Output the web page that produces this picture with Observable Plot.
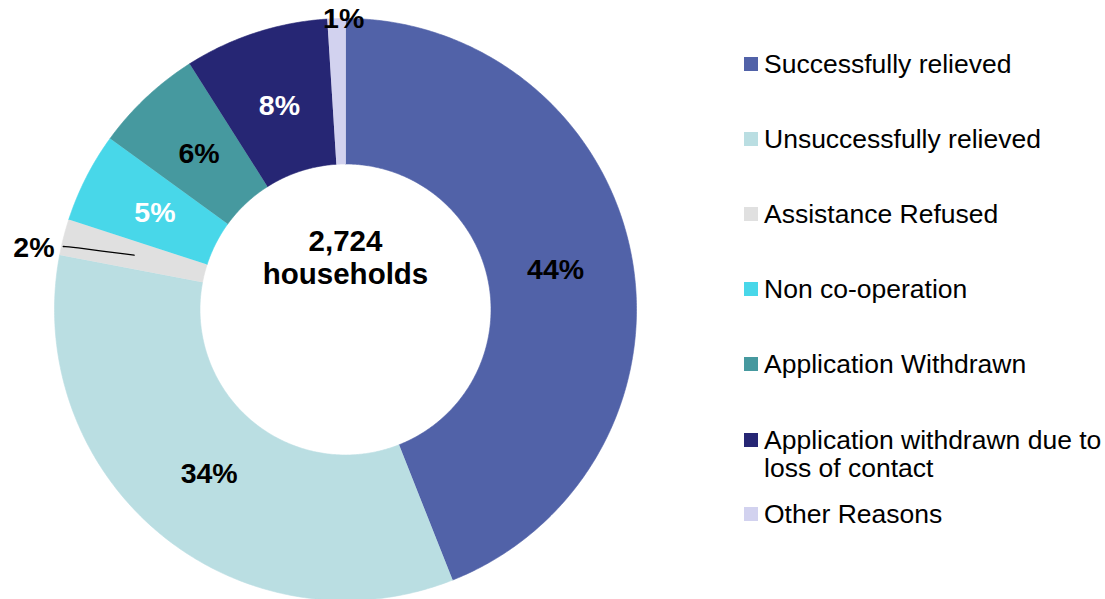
<!DOCTYPE html>
<html><head><meta charset="utf-8">
<script src="https://cdn.jsdelivr.net/npm/d3@7"></script>
<script src="https://cdn.jsdelivr.net/npm/@observablehq/plot@0.6"></script>
<style>
body{margin:0;background:#fff;font-family:"Liberation Sans",Arial,sans-serif;}
#wrap{position:relative;width:1105px;height:599px;overflow:hidden;}
.item{position:absolute;left:744px;font-size:26.5px;line-height:28px;color:#000;}
.sw{position:absolute;left:0;top:7px;width:14px;height:14px;}
.lab{position:absolute;left:20px;top:0;white-space:pre;}
</style></head><body><div id="wrap"></div>
<script>
const categories = ["Successfully relieved","Unsuccessfully relieved","Assistance Refused","Non co-operation","Application Withdrawn","Application withdrawn due to loss of contact","Other Reasons"];
const legendLabels = ["Successfully relieved","Unsuccessfully relieved","Assistance Refused","Non co-operation","Application Withdrawn","Application withdrawn due to\nloss of contact","Other Reasons"];
const values = [44, 34, 2, 5, 6, 8, 1];
const valueLabels = ["44%","34%","2%","5%","6%","8%","1%"];
const colors = ["#5162a8","#badee2","#e0e0e0","#48d7e9","#46999f","#262674","#d2d2ef"];
const labelColors = ["black","black","black","white","black","white","black"];
const labelPlacement = ["in","in","leader","in","in","in","edge"];
const centerText = "2,724\nhouseholds";

// layout (pixels)
const W = 1105, H = 599, CX = 345, CY = 309, R = 291, INNER = 0.5;
const legendTops = [50, 125, 200, 275, 350, 426, 500];

const pie = d3.pie().sort(null).value(d => d)(values);
const polar = (a, r) => [r * Math.sin(a), r * Math.cos(a)];

// slice polygons
const pts = [];
pie.forEach((p, i) => {
  const a0 = p.startAngle, a1 = p.endAngle;
  const n = Math.max(3, Math.ceil((a1 - a0) / 0.01));
  for (let k = 0; k <= n; k++) {
    const a = a0 + (a1 - a0) * k / n;
    const [x, y] = polar(a, 1);
    pts.push({name: categories[i], x, y});
  }
  for (let k = n; k >= 0; k--) {
    const a = a0 + (a1 - a0) * k / n;
    const [x, y] = polar(a, INNER);
    pts.push({name: categories[i], x, y});
  }
});

// labels
const labs = [];
const leader = [];
pie.forEach((p, i) => {
  const mid = (p.startAngle + p.endAngle) / 2;
  let x, y, anchor = "middle";
  if (labelPlacement[i] === "in") {
    [x, y] = polar(mid, 0.735);
  } else if (labelPlacement[i] === "edge") {
    [x, y] = polar(mid, 1.0);
    x += 0.025;
  } else {
    const pIn = polar(mid, 0.75);
    const pEl = polar(mid, 0.955);
    pEl[1] = pEl[1] - 0.025;
    const pOut = [pEl[0] - 0.045, pEl[1] + 0.004];
    leader.push({x: pIn[0], y: pIn[1]}, {x: pEl[0], y: pEl[1]}, {x: pOut[0], y: pOut[1]});
    x = pOut[0] - 0.03; y = pOut[1] - 0.005; anchor = "end";
  }
  labs.push({x, y, text: valueLabels[i], c: labelColors[i], anchor});
});

const font = "Liberation Sans, Arial, sans-serif";
const chart = Plot.plot({
  width: W, height: H, margin: 0,
  x: {domain: [-CX / R, (W - CX) / R], axis: null},
  y: {domain: [-(H - CY) / R, CY / R], axis: null},
  color: {domain: categories, range: colors},
  marks: [
    Plot.line(pts, {x: "x", y: "y", z: "name", fill: "name", stroke: "name", strokeWidth: 0.6}),
    Plot.line(leader, {x: "x", y: "y", stroke: "black", strokeWidth: 1.3, curve: "basis"}),
    Plot.text(labs.filter(d => d.anchor === "middle"), {x: "x", y: "y", text: "text", fill: d => d.c === "white" ? "#ffffff" : "#000000", fontSize: 28.5, fontWeight: "bold", fontFamily: font}),
    Plot.text(labs.filter(d => d.anchor === "end"), {x: "x", y: "y", text: "text", fill: "black", textAnchor: "end", fontSize: 28.5, fontWeight: "bold", fontFamily: font}),
    Plot.text([centerText], {x: () => 0, y: () => 0.18, text: d => d, fill: "black", fontSize: 29.5, fontWeight: "bold", fontFamily: font, lineHeight: 1.12})
  ]
});
const wrap = document.getElementById("wrap");
wrap.appendChild(chart);
chart.style.position = "absolute"; chart.style.left = "0"; chart.style.top = "0";

categories.forEach((c, i) => {
  const it = document.createElement("div");
  it.className = "item";
  it.style.top = legendTops[i] + "px";
  const sw = document.createElement("div");
  sw.className = "sw"; sw.style.background = colors[i];
  const lb = document.createElement("div");
  lb.className = "lab"; lb.textContent = legendLabels[i];
  it.appendChild(sw); it.appendChild(lb);
  wrap.appendChild(it);
});
</script></body></html>
